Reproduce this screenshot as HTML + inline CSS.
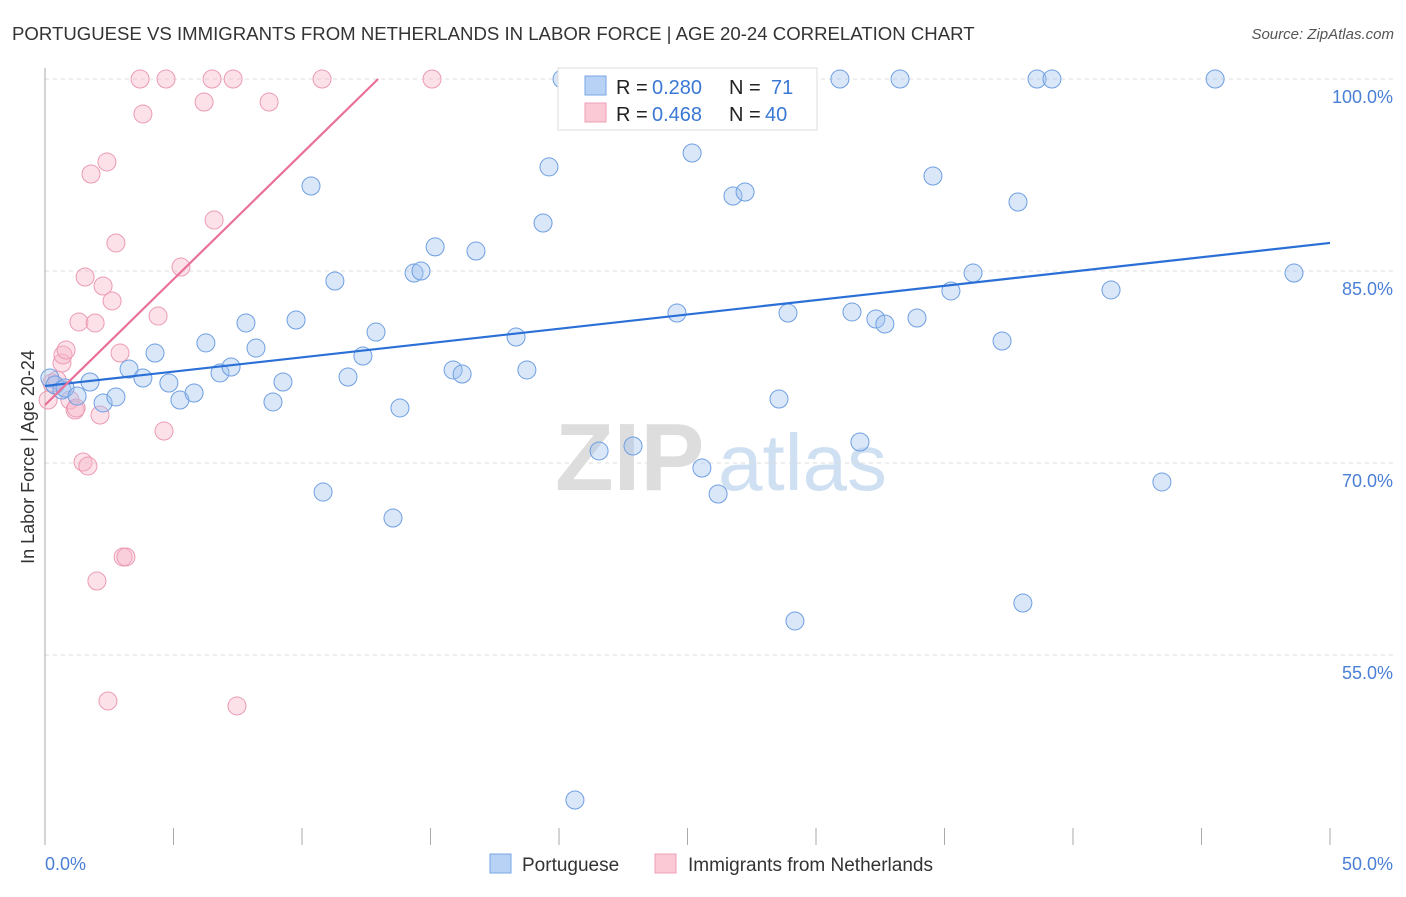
<!DOCTYPE html>
<html><head><meta charset="utf-8"><style>
body{margin:0;background:#fff;font-family:"Liberation Sans",sans-serif}
svg text{font-family:"Liberation Sans",sans-serif}
</style></head><body>
<svg id="chart" width="1406" height="892" viewBox="0 0 1406 892" xmlns="http://www.w3.org/2000/svg">
<text x="12" y="40" font-size="18.6" fill="#333">PORTUGUESE VS IMMIGRANTS FROM NETHERLANDS IN LABOR FORCE | AGE 20-24 CORRELATION CHART</text>
<text x="1394" y="39" font-size="15" fill="#555" text-anchor="end" font-style="italic">Source: ZipAtlas.com</text>
<g>
<text x="555" y="490" font-size="96" fill="#ddd" font-family="Liberation Serif" font-weight="bold">ZIP</text>
<text x="718" y="490" font-size="80" fill="#cfe0f3">atlas</text>
</g>
<g id="grid"></g><g id="axes"></g><g id="marks"></g>
<text transform="translate(34,457) rotate(-90)" font-size="18" fill="#333" text-anchor="middle">In Labor Force | Age 20-24</text>
<g>
<rect x="558" y="68" width="259" height="62" fill="#fff" stroke="#ddd"/>
<rect x="585" y="76" width="21" height="19" fill="#b8d2f6" stroke="#7aa6e6"/>
<rect x="585" y="103" width="21" height="19" fill="#fbc8d6" stroke="#eda0b6"/>
<text x="616" y="94" font-size="20" fill="#222">R =</text>
<text x="652" y="94" font-size="20" fill="#3a78d4">0.280</text>
<text x="729" y="94" font-size="20" fill="#222">N =</text>
<text x="771" y="94" font-size="20" fill="#3a78d4">71</text>
<text x="616" y="121" font-size="20" fill="#222">R =</text>
<text x="652" y="121" font-size="20" fill="#3a78d4">0.468</text>
<text x="729" y="121" font-size="20" fill="#222">N =</text>
<text x="765" y="121" font-size="20" fill="#3a78d4">40</text>
</g>
<g>
<rect x="490" y="854" width="21" height="19" fill="#b8d2f6" stroke="#7aa6e6"/>
<text x="522" y="871" font-size="19" fill="#333">Portuguese</text>
<rect x="655" y="854" width="21" height="19" fill="#fbc8d6" stroke="#eda0b6"/>
<text x="688" y="871" font-size="19" fill="#333">Immigrants from Netherlands</text>
</g>
</svg>
<script>
const yTicks=[100,85,70,55];
const yTickLabels=["100.0%","85.0%","70.0%","55.0%"];
const xTicks=[0,5,10,15,20,25,30,35,40,45,50];
const blueX=[0.19,0.39,0.66,0.78,1.25,1.75,2.26,2.76,3.27,3.81,4.28,4.82,5.25,5.80,6.26,6.81,7.24,7.82,8.21,8.87,9.26,9.77,10.35,10.82,11.28,11.79,12.37,12.88,13.54,13.81,14.36,14.63,15.18,15.88,16.23,16.77,18.33,18.75,19.38,19.61,20.12,20.62,21.56,22.88,24.59,25.18,25.56,26.19,26.77,27.24,28.56,28.91,29.18,30.93,31.40,31.71,32.33,32.68,33.27,33.93,34.55,35.25,36.11,37.24,37.86,38.05,38.60,39.18,41.48,43.46,45.53,48.60];
const blueY=[76.64,76.09,75.70,75.86,75.23,76.33,74.69,75.16,77.34,76.64,78.59,76.25,74.92,75.47,79.38,77.03,77.50,80.94,78.98,74.77,76.33,81.17,91.64,67.73,84.22,76.72,78.36,80.23,65.70,74.30,84.84,85.00,86.88,77.27,76.95,86.56,79.84,77.27,88.75,93.13,100,43.67,70.94,71.33,81.72,94.22,69.61,67.58,90.86,91.17,75.00,81.72,57.66,100,81.80,71.64,81.25,80.86,100,81.33,92.42,83.44,84.84,79.53,90.39,59.06,100,100,83.52,68.52,100,84.84];
const pinkX=[0.12,0.27,0.47,0.66,0.70,0.82,0.97,1.17,1.21,1.32,1.48,1.56,1.67,1.79,1.95,2.02,2.14,2.26,2.41,2.45,2.61,2.76,2.92,3.04,3.15,3.70,3.81,4.40,4.63,4.71,5.29,6.19,6.50,6.58,7.32,7.47,8.72,10.78,15.06];
const pinkY=[74.92,76.25,76.48,77.81,78.44,78.83,74.92,74.14,74.30,81.02,70.08,84.53,69.77,92.58,80.94,60.78,73.75,83.83,93.52,51.41,82.66,87.19,78.59,62.66,62.66,100,97.27,81.48,72.50,100,85.31,98.20,100,88.98,100,51.02,98.20,100,100];
const blueTrend=[76.02,87.19];
const pinkTrend=[74.53,1.965];
const X=v=>45+v/50*1285, Y=v=>79+(100-v)*12.8;
const NS="http://www.w3.org/2000/svg";
function mk(t,a,p){const e=document.createElementNS(NS,t);for(const k in a)e.setAttribute(k,a[k]);p.appendChild(e);return e;}
const grid=document.getElementById('grid'),axes=document.getElementById('axes'),marks=document.getElementById('marks');
yTicks.forEach((v,i)=>{
 const l=mk('line',{x1:45,x2:1394,y1:Y(v),y2:Y(v),stroke:'#ddd','stroke-dasharray':'4,4'},grid);
 
 
 const t=mk('text',{x:1393,y:Y(v)+24,'font-size':18,fill:'#4a7fd6','text-anchor':'end'},axes);
 t.textContent=yTickLabels[i];
 
 
});
const ya=mk('line',{x1:45,x2:45,y1:68,y2:845,stroke:'#aaa'},axes);


xTicks.forEach(v=>{
 const l=mk('line',{x1:X(v),x2:X(v),y1:828,y2:845,stroke:'#aaa'},axes);
 
 
});
const x0=mk('text',{x:45,y:870,'font-size':18,fill:'#4a7fd6'},axes);x0.textContent='0.0%';


const x1=mk('text',{x:1393,y:870,'font-size':18,fill:'#4a7fd6','text-anchor':'end'},axes);x1.textContent='50.0%';


pinkX.forEach((v,i)=>{
 const c=mk('circle',{cx:X(v),cy:Y(pinkY[i]),r:9,fill:'rgba(248,180,200,0.4)',stroke:'#eb9bb3','stroke-width':1},marks);
 
 
});
blueX.forEach((v,i)=>{
 const c=mk('circle',{cx:X(v),cy:Y(blueY[i]),r:9,fill:'rgba(160,195,240,0.4)',stroke:'#6f9fe2','stroke-width':1},marks);
 
 
});
const bt=mk('line',{x1:X(0),y1:Y(blueTrend[0]),x2:X(50),y2:Y(blueTrend[1]),stroke:'#2a6fd6','stroke-width':2.2},marks);


const pEnd=(100-pinkTrend[0])/pinkTrend[1];
const pt=mk('line',{x1:X(0),y1:Y(pinkTrend[0]),x2:X(pEnd),y2:Y(100),stroke:'#e8709a','stroke-width':2.2},marks);


</script>
</body></html>
